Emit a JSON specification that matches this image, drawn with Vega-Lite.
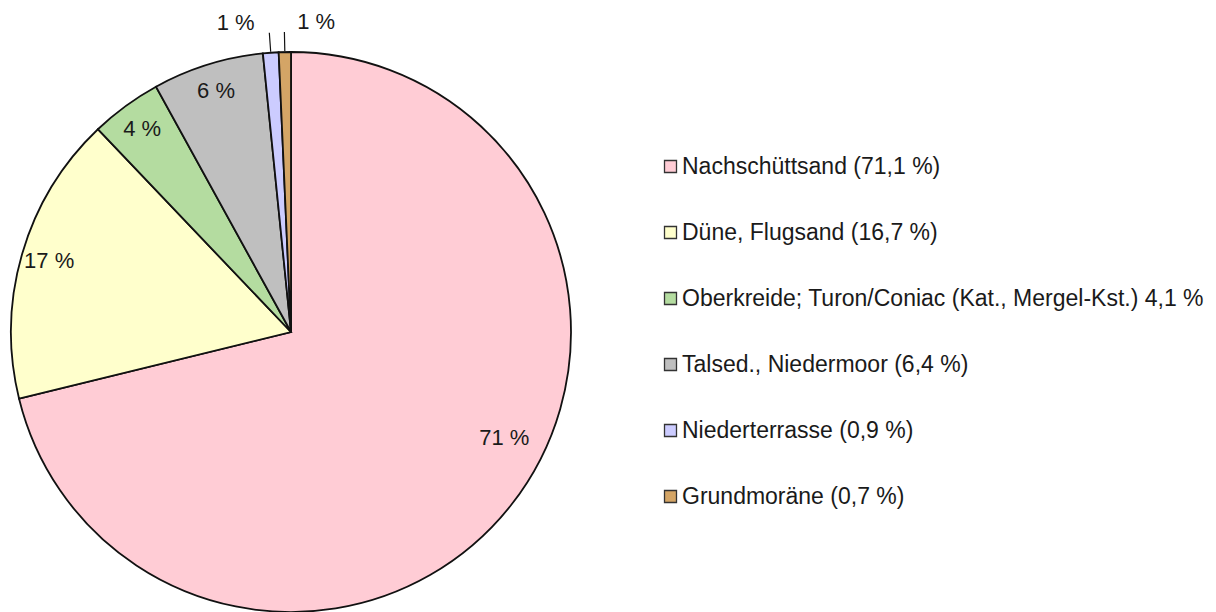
{
  "$schema": "https://vega.github.io/schema/vega-lite/v6.json",
  "width": 572,
  "height": 664,
  "autosize": {"type": "none"},
  "padding": {"left": 5, "top": 0, "right": 639, "bottom": 0},
  "background": "white",
  "config": {"view": {"stroke": null}, "font": "Liberation Sans"},
  "data": {"values": [
    {"rank": 1, "name": "Nachschüttsand (71,1 %)", "value": 71.1, "label": "71 %"},
    {"rank": 2, "name": "Düne, Flugsand (16,7 %)", "value": 16.7, "label": "17 %"},
    {"rank": 3, "name": "Oberkreide; Turon/Coniac (Kat., Mergel-Kst.) 4,1 %", "value": 4.1, "label": "4 %"},
    {"rank": 4, "name": "Talsed., Niedermoor (6,4 %)", "value": 6.4, "label": "6 %"},
    {"rank": 5, "name": "Niederterrasse (0,9 %)", "value": 0.9, "label": "1 %"},
    {"rank": 6, "name": "Grundmoräne (0,7 %)", "value": 0.7, "label": "1 %"}
  ]},
  "encoding": {
    "theta": {"field": "value", "type": "quantitative", "stack": true},
    "order": {"field": "rank", "type": "ordinal"}
  },
  "layer": [
    {
      "mark": {"type": "arc", "outerRadius": 280, "stroke": "#111", "strokeWidth": 1.8},
      "encoding": {
        "color": {
          "field": "name", "type": "nominal",
          "scale": {
            "domain": ["Nachschüttsand (71,1 %)", "Düne, Flugsand (16,7 %)", "Oberkreide; Turon/Coniac (Kat., Mergel-Kst.) 4,1 %", "Talsed., Niedermoor (6,4 %)", "Niederterrasse (0,9 %)", "Grundmoräne (0,7 %)"],
            "range": ["#FFCCD5", "#FFFFCC", "#B4DCA0", "#BFBFBF", "#CCCCFF", "#D4A566"]
          },
          "legend": {
            "title": null,
            "orient": "none",
            "legendX": 654,
            "legendY": 155,
            "symbolType": "square",
            "symbolSize": 144,
            "symbolStrokeColor": "#333",
            "symbolStrokeWidth": 1.3,
            "labelFontSize": 23,
            "labelFont": "Liberation Sans",
            "labelColor": "#1a1a1a",
            "labelOffset": 0,
            "labelLimit": 700,
            "rowPadding": 42
          }
        }
      }
    },
    {
      "mark": {"type": "arc", "radius": 281, "radius2": 300, "padAngle": 1, "fillOpacity": 0, "stroke": "#111", "strokeWidth": 1.2},
      "encoding": {
        "strokeOpacity": {"condition": {"test": "datum.rank >= 5", "value": 1}, "value": 0}
      }
    },
    {
      "mark": {"type": "text", "radius": 252, "fontSize": 22, "font": "Liberation Sans", "fill": "#1a1a1a"},
      "encoding": {
        "text": {"condition": {"test": "datum.rank >= 2 && datum.rank <= 4", "field": "label"}, "value": ""}
      }
    },
    {
      "mark": {"type": "text", "radius": 238, "dx": 26, "dy": -41, "fontSize": 22, "font": "Liberation Sans", "fill": "#1a1a1a"},
      "encoding": {
        "text": {"condition": {"test": "datum.rank == 1", "field": "label"}, "value": ""}
      }
    },
    {
      "mark": {"type": "text", "radius": 310, "dx": -33, "fontSize": 22, "font": "Liberation Sans", "fill": "#1a1a1a"},
      "encoding": {
        "text": {"condition": {"test": "datum.rank == 5", "field": "label"}, "value": ""}
      }
    },
    {
      "mark": {"type": "text", "radius": 310, "dx": 32, "fontSize": 22, "font": "Liberation Sans", "fill": "#1a1a1a"},
      "encoding": {
        "text": {"condition": {"test": "datum.rank == 6", "field": "label"}, "value": ""}
      }
    }
  ]
}
